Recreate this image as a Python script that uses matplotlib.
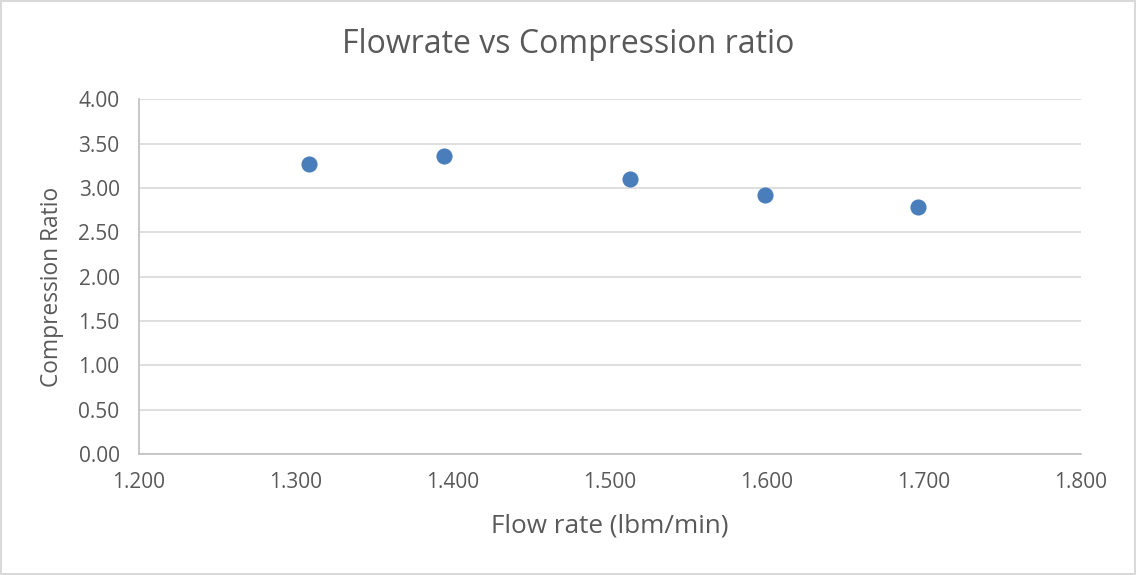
import matplotlib
matplotlib.use("Agg")
import matplotlib.pyplot as plt
import numpy as np

# measured flow rate vs compression ratio
flow_rate = [1.308, 1.394, 1.513, 1.599, 1.696]
compression_ratio = [3.27, 3.36, 3.10, 2.92, 2.79]

x_ticks = np.arange(1.2, 1.801, 0.1)
y_ticks = np.arange(0.0, 4.001, 0.5)

plt.rcParams['font.family'] = ['Open Sans', 'DejaVu Sans']
text_color = '#595959'

fig = plt.figure(figsize=(11.36, 5.75), dpi=100)
fig.patch.set_edgecolor('#d9d9d9')
fig.patch.set_linewidth(1.5)
ax = fig.add_axes((0.1224, 0.2104, 0.8292, 0.6169))

ax.scatter(flow_rate, compression_ratio, s=135, color='#4A7EBB', zorder=3, linewidths=0)

ax.set_xlim(1.2, 1.8)
ax.set_ylim(0, 4)
ax.set_xticks(x_ticks)
ax.set_yticks(y_ticks)
ax.set_xticklabels([f'{v:.3f}' for v in x_ticks])
ax.set_yticklabels([f'{v:.2f}' for v in y_ticks])
ax.tick_params(length=0, labelsize=15, colors=text_color)
ax.tick_params(axis='x', pad=13)
ax.tick_params(axis='y', pad=14)

ax.grid(True, axis='y', color='#d9d9d9', linewidth=1.2)
ax.set_axisbelow(True)
for side in ['top', 'right']:
    ax.spines[side].set_visible(False)
for side in ['left', 'bottom']:
    ax.spines[side].set_color('#bfbfbf')
    ax.spines[side].set_linewidth(1.2)

# title is centred on the whole chart area
fig.text(0.5, 0.922, 'Flowrate vs Compression ratio', fontsize=23,
         color=text_color, ha='center', va='center')
ax.set_xlabel('Flow rate (lbm/min)', fontsize=18.8, color=text_color, labelpad=15)
ax.set_ylabel('Compression Ratio', fontsize=16.4, color=text_color)
ax.yaxis.set_label_coords(-0.08, 0.47)

fig.savefig('out.png', dpi=100)
